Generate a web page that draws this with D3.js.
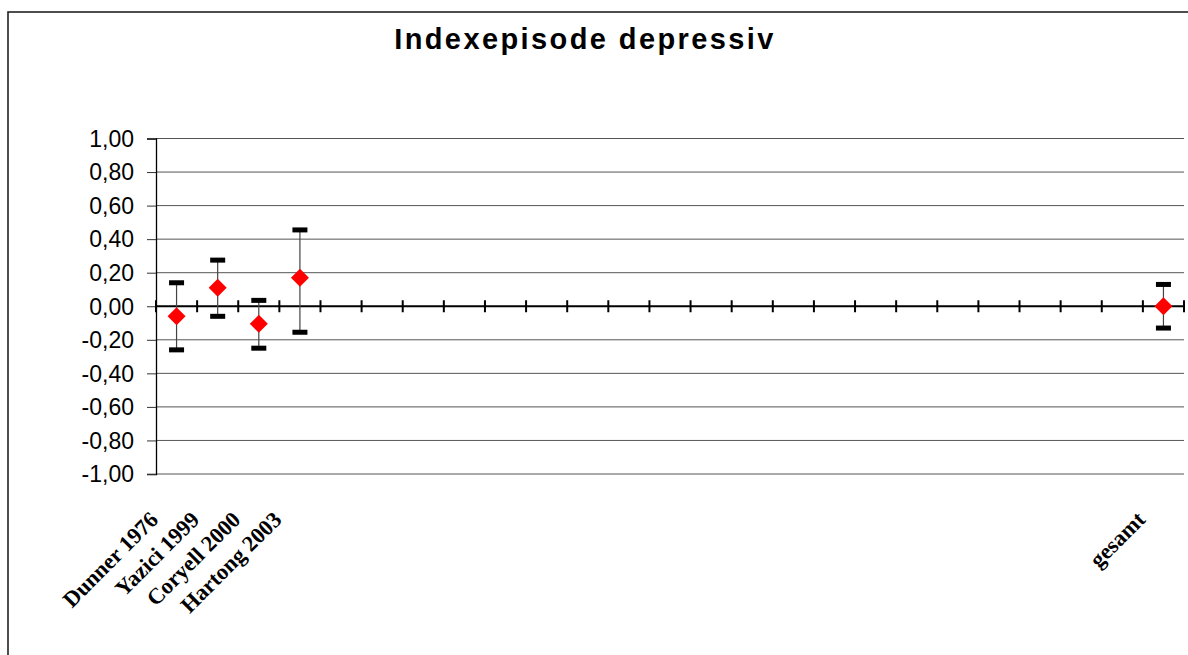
<!DOCTYPE html>
<html><head><meta charset="utf-8">
<script src="https://cdn.jsdelivr.net/npm/d3@7/dist/d3.min.js"></script>
<style>body{margin:0;background:#fff;}svg{display:block;}</style>
</head><body>
<script>
const title = "Indexepisode depressiv";
const categories = ["Dunner 1976","Yazici 1999","Coryell 2000","Hartong 2003",
  "","","","","","","","","","","","","","","","","","","","",
  "gesamt"];
const N = null;
const meanValues  = [-0.06, 0.11, -0.105, 0.17, N,N,N,N,N,N,N,N,N,N,N,N,N,N,N,N,N,N,N,N, 0.00];
const lowerValues = [-0.26, -0.06, -0.25, -0.155, N,N,N,N,N,N,N,N,N,N,N,N,N,N,N,N,N,N,N,N, -0.13];
const upperValues = [0.14, 0.275, 0.035, 0.455, N,N,N,N,N,N,N,N,N,N,N,N,N,N,N,N,N,N,N,N, 0.13];
const yTicks = [-1,-0.8,-0.6,-0.4,-0.2,0,0.2,0.4,0.6,0.8,1];

const W = 1188, H = 655;
const plot = {left:156, right:1184, top:138.5, bottom:474};

const svg = d3.select("body").append("svg").attr("width",W).attr("height",H);
// frame
svg.append("rect").attr("x",8).attr("y",12).attr("width",W+20).attr("height",H+20)
  .attr("fill","#fff").attr("stroke","#222").attr("stroke-width",1.6);

svg.append("text").attr("x",585).attr("y",49).attr("text-anchor","middle")
  .attr("font-family","Liberation Sans, Arial, sans-serif").attr("font-weight","bold")
  .attr("font-size",29).attr("letter-spacing",2.4).text(title);

const x = d3.scaleBand().domain(d3.range(categories.length)).range([plot.left, plot.right]).padding(0);
const y = d3.scaleLinear().domain([-1,1]).range([plot.bottom, plot.top]);

// gridlines
svg.append("g").selectAll("line").data(yTicks.filter(v=>v!==0)).join("line")
  .attr("x1",plot.left).attr("x2",plot.right)
  .attr("y1",d=>y(d)).attr("y2",d=>y(d))
  .attr("stroke","#555").attr("stroke-width",1);

// y axis
const yAxis = d3.axisLeft(y).tickValues(yTicks).tickSize(9).tickPadding(13)
  .tickFormat(d=>d3.format(".2f")(d).replace(".",",").replace("−","-"));
const ga = svg.append("g").attr("transform",`translate(${plot.left},0)`).call(yAxis);
ga.select(".domain").attr("stroke","#000").attr("stroke-width",1.3);
ga.selectAll(".tick line").attr("stroke","#333").attr("stroke-width",1);
ga.selectAll(".tick text").attr("font-family","Liberation Sans, Arial, sans-serif")
  .attr("font-size",23).attr("fill","#000").attr("dy","0.34em");

// zero axis line with category ticks
const y0 = y(0);
svg.append("line").attr("x1",plot.left).attr("x2",plot.right).attr("y1",y0).attr("y2",y0)
  .attr("stroke","#000").attr("stroke-width",2);
const bounds = d3.range(categories.length+1).map(i => i<categories.length ? x(i) : x(i-1)+x.bandwidth());
svg.append("g").selectAll("line").data(bounds).join("line")
  .attr("x1",d=>d).attr("x2",d=>d).attr("y1",y0-6).attr("y2",y0+6)
  .attr("stroke","#000").attr("stroke-width",2);

// category labels
svg.append("g").selectAll("text").data(categories.map((c,i)=>({c,i})).filter(d=>d.c)).join("text")
  .attr("transform",d=>`translate(${x(d.i)+x.bandwidth()/2-17},${y(-1)+47}) rotate(-45)`)
  .attr("text-anchor","end")
  .attr("font-family","Liberation Serif, Times New Roman, serif").attr("font-weight","bold")
  .attr("font-size",22.5).attr("fill","#000").text(d=>d.c);

// error bars and points
const pts = categories.map((c,i)=>({i, m:meanValues[i], lo:lowerValues[i], hi:upperValues[i]})).filter(d=>d.m!==null);
const cx = d => x(d.i)+x.bandwidth()/2;
const g = svg.append("g");
g.selectAll("line.err").data(pts).join("line").attr("class","err")
  .attr("x1",cx).attr("x2",cx).attr("y1",d=>y(d.lo)).attr("y2",d=>y(d.hi))
  .attr("stroke","#444").attr("stroke-width",1.2);
g.selectAll("rect.capHi").data(pts).join("rect")
  .attr("x",d=>cx(d)-7.5).attr("y",d=>y(d.hi)-2.5).attr("width",15).attr("height",5).attr("fill","#000");
g.selectAll("rect.capLo").data(pts).join("rect")
  .attr("x",d=>cx(d)-7.5).attr("y",d=>y(d.lo)-2.5).attr("width",15).attr("height",5).attr("fill","#000");
g.selectAll("path.pt").data(pts).join("path")
  .attr("d",d=>{const X=cx(d),Y=y(d.m),r=9;return `M${X},${Y-r}L${X+r},${Y}L${X},${Y+r}L${X-r},${Y}Z`;})
  .attr("fill","#ff0000");
</script>
</body></html>
